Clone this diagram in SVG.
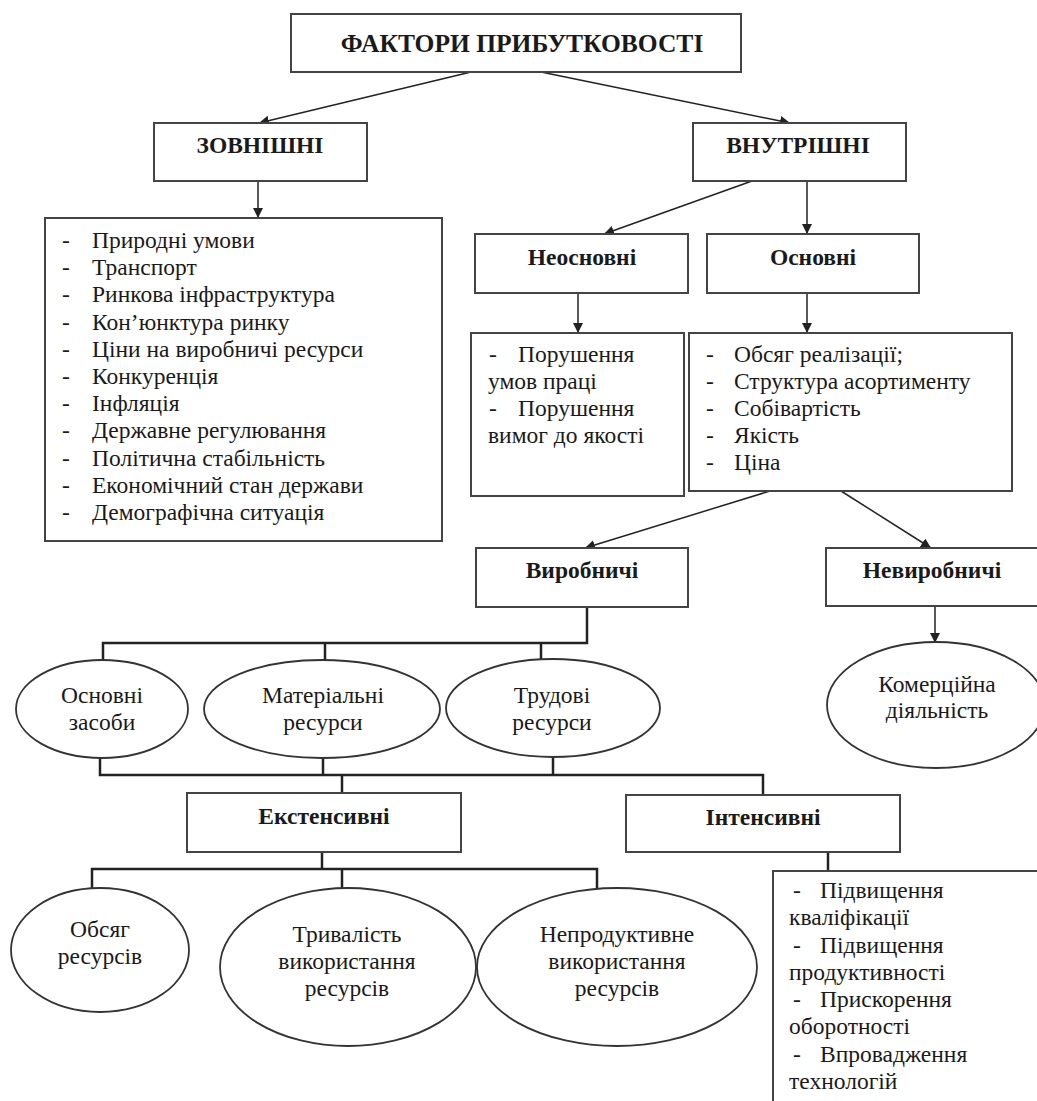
<svg xmlns="http://www.w3.org/2000/svg" width="1037" height="1101" viewBox="0 0 1037 1101">
<defs>
<marker id="ah" markerUnits="userSpaceOnUse" markerWidth="10" markerHeight="10" refX="10" refY="5" orient="auto">
<path d="M0,0 L10,5 L0,10 z" fill="#222"/>
</marker>
<style>
.box{fill:#fff;stroke:#444;stroke-width:2}
.el{fill:#fff;stroke:#333;stroke-width:1.8}
.t{font-family:"Liberation Serif","Times New Roman","DejaVu Serif",serif;font-size:23.5px;fill:#1a1a1a}
.b{font-weight:bold}
.c{text-anchor:middle}
.arr{stroke:#222;stroke-width:1.5;fill:none;marker-end:url(#ah)}
.br{stroke:#222;stroke-width:2.5;fill:none}
</style>
</defs>
<rect width="1037" height="1101" fill="#fff"/>
<g id="connectors">
<line class="arr" x1="471" y1="72" x2="259" y2="123"/>
<line class="arr" x1="541" y1="72" x2="790" y2="123"/>
<line class="arr" x1="258" y1="181" x2="258" y2="218"/>
<line class="arr" x1="752" y1="181" x2="604" y2="234"/>
<line class="arr" x1="807" y1="181" x2="807" y2="234"/>
<line class="arr" x1="578" y1="293" x2="578" y2="333"/>
<line class="arr" x1="807" y1="293" x2="807" y2="333"/>
<line class="arr" x1="770" y1="491" x2="585" y2="548"/>
<line class="arr" x1="841" y1="491" x2="931" y2="548"/>
<line class="arr" x1="935" y1="606" x2="935" y2="643"/>
<path class="br" d="M587,607 V643 H103 V660 M325,643 V660 M541,643 V660"/>
<path class="br" d="M100,758 V775 H763 V795 M323,759 V775 M553,757 V775 M342,775 V793"/>
<path class="br" d="M322,852 V869 M92,888 V869 H597 V888 M342,869 V888"/>
<path class="br" d="M828,852 V871"/>
</g>
<g id="n-title"><rect class="box" x="291" y="14" width="450" height="58"/><text class="t b c" x="522" y="52" style="font-size:25.5px">ФАКТОРИ ПРИБУТКОВОСТІ</text></g>
<g id="n-zovn"><rect class="box" x="154" y="123" width="213" height="58"/><text class="t b c" x="260" y="153">ЗОВНІШНІ</text></g>
<g id="n-vnutr"><rect class="box" x="693" y="123" width="213" height="58"/><text class="t b c" x="798" y="153">ВНУТРІШНІ</text></g>
<g id="n-zovn-list"><rect class="box" x="45" y="218" width="397" height="323"/>
<g class="t">
<text x="62" y="248">-</text><text x="92" y="248">Природні умови</text>
<text x="62" y="275">-</text><text x="92" y="275">Транспорт</text>
<text x="62" y="302">-</text><text x="92" y="302">Ринкова інфраструктура</text>
<text x="62" y="330">-</text><text x="92" y="330">Кон’юнктура ринку</text>
<text x="62" y="357">-</text><text x="92" y="357">Ціни на виробничі ресурси</text>
<text x="62" y="384">-</text><text x="92" y="384">Конкуренція</text>
<text x="62" y="411">-</text><text x="92" y="411">Інфляція</text>
<text x="62" y="438">-</text><text x="92" y="438">Державне регулювання</text>
<text x="62" y="466">-</text><text x="92" y="466">Політична стабільність</text>
<text x="62" y="493">-</text><text x="92" y="493">Економічний стан держави</text>
<text x="62" y="520">-</text><text x="92" y="520">Демографічна ситуація</text>
</g></g>
<g id="n-neosn"><rect class="box" x="475" y="234" width="213" height="59"/><text class="t b c" x="582" y="265">Неосновні</text></g>
<g id="n-osn"><rect class="box" x="707" y="234" width="212" height="59"/><text class="t b c" x="813" y="265">Основні</text></g>
<g id="n-neosn-list"><rect class="box" x="471" y="333" width="213" height="163"/>
<g class="t">
<text x="489" y="362">-</text><text x="518" y="362">Порушення</text>
<text x="488" y="389">умов праці</text>
<text x="489" y="416">-</text><text x="518" y="416">Порушення</text>
<text x="488" y="443">вимог до якості</text>
</g></g>
<g id="n-osn-list"><rect class="box" x="689" y="333" width="323" height="158"/>
<g class="t">
<text x="706" y="362">-</text><text x="734" y="362">Обсяг реалізації;</text>
<text x="706" y="389">-</text><text x="734" y="389">Структура асортименту</text>
<text x="706" y="416">-</text><text x="734" y="416">Собівартість</text>
<text x="706" y="443">-</text><text x="734" y="443">Якість</text>
<text x="706" y="470">-</text><text x="734" y="470">Ціна</text>
</g></g>
<g id="n-vyrob"><rect class="box" x="476" y="548" width="212" height="59"/><text class="t b c" x="582" y="578">Виробничі</text></g>
<g id="n-nevyrob"><rect class="box" x="826" y="548" width="212" height="58"/><text class="t b c" x="932" y="578">Невиробничі</text></g>
<g id="n-komerc"><ellipse class="el" cx="936" cy="705" rx="109" ry="63"/><text class="t c" x="937" y="692">Комерційна</text><text class="t c" x="937" y="718">діяльність</text></g>
<g id="n-osnzas"><ellipse class="el" cx="102" cy="709" rx="86" ry="49"/><text class="t c" x="102" y="703">Основні</text><text class="t c" x="102" y="730">засоби</text></g>
<g id="n-mater"><ellipse class="el" cx="322" cy="709" rx="118" ry="49"/><text class="t c" x="323" y="703">Матеріальні</text><text class="t c" x="323" y="730">ресурси</text></g>
<g id="n-trud"><ellipse class="el" cx="553" cy="708" rx="107" ry="49"/><text class="t c" x="552" y="703">Трудові</text><text class="t c" x="552" y="730">ресурси</text></g>
<g id="n-ekst"><rect class="box" x="187" y="793" width="274" height="59"/><text class="t b c" x="324" y="824">Екстенсивні</text></g>
<g id="n-int"><rect class="box" x="626" y="795" width="274" height="57"/><text class="t b c" x="763" y="825">Інтенсивні</text></g>
<g id="n-obsyag"><ellipse class="el" cx="100" cy="950" rx="89" ry="62"/><text class="t c" x="100" y="937">Обсяг</text><text class="t c" x="100" y="964">ресурсів</text></g>
<g id="n-tryv"><ellipse class="el" cx="348" cy="967" rx="128" ry="79"/><text class="t c" x="347" y="942">Тривалість</text><text class="t c" x="347" y="969">використання</text><text class="t c" x="347" y="996">ресурсів</text></g>
<g id="n-neprod"><ellipse class="el" cx="617" cy="967" rx="140" ry="79"/><text class="t c" x="617" y="942">Непродуктивне</text><text class="t c" x="617" y="969">використання</text><text class="t c" x="617" y="996">ресурсів</text></g>
<g id="n-int-list"><rect class="box" x="773" y="871" width="290" height="260"/>
<g class="t">
<text x="793" y="898">-</text><text x="820" y="898">Підвищення</text>
<text x="789" y="925">кваліфікації</text>
<text x="793" y="953">-</text><text x="820" y="953">Підвищення</text>
<text x="789" y="980">продуктивності</text>
<text x="793" y="1007">-</text><text x="820" y="1007">Прискорення</text>
<text x="789" y="1034">оборотності</text>
<text x="793" y="1062">-</text><text x="820" y="1062">Впровадження</text>
<text x="789" y="1089">технологій</text>
</g></g>
</svg>
